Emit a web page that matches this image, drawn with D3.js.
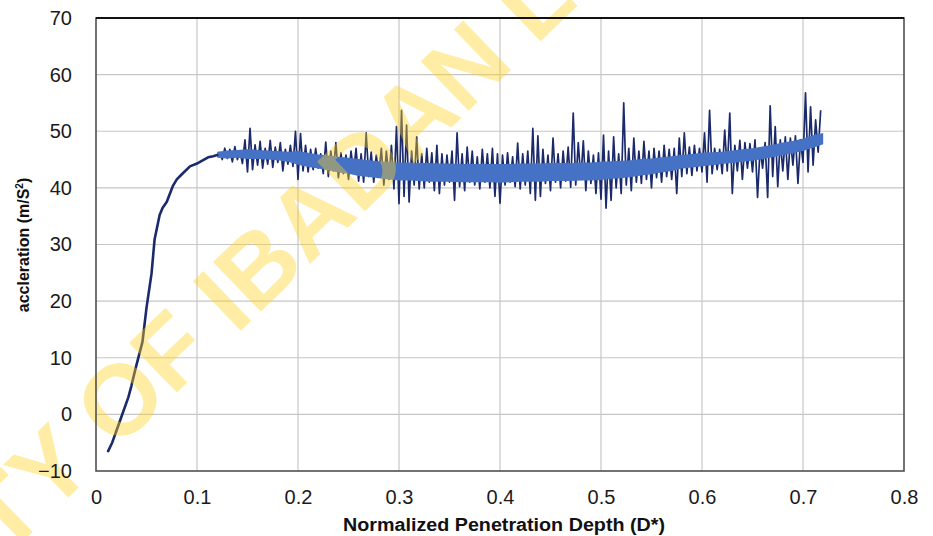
<!DOCTYPE html>
<html><head><meta charset="utf-8">
<script src="https://cdn.jsdelivr.net/npm/d3@7"></script>
<style>body{margin:0;background:#fff} svg{display:block}</style>
</head><body>
<svg id="c" width="933" height="536"></svg>
<script>
// ---- data ----
const xTicks = [0, 0.1, 0.2, 0.3, 0.4, 0.5, 0.6, 0.7, 0.8];
const yTicks = [-10, 0, 10, 20, 30, 40, 50, 60, 70];
const xTitle = "Normalized Penetration Depth (D*)";
const yTitle = "accleration (m/S";

// initial rise of the acceleration curve
const riseDepth = [0.012, 0.016, 0.019, 0.025, 0.032, 0.035, 0.039, 0.046, 0.050, 0.055, 0.058, 0.063, 0.066, 0.070, 0.076, 0.080, 0.085, 0.093, 0.100, 0.103, 0.111, 0.116, 0.120];
const riseAccel = [-6.5, -5.0, -3.5, -0.5, 3.0, 5.0, 8.0, 12.8, 18.8, 24.9, 30.9, 35.2, 36.5, 37.5, 40.3, 41.5, 42.4, 43.8, 44.3, 44.6, 45.4, 45.6, 45.8];

// noisy plateau (raw samples), sampled every 0.0025 from 0.1225
const plateauStart = 0.1225, plateauStep = 0.0025;
const plateauAccel = [
  46.2, 45.0, 47.0, 45.2, 46.8, 44.6, 47.3, 45.0, 46.5, 44.3, 48.5, 42.8, 50.5, 43.2, 47.6, 44.0, 48.2, 43.5, 47.0, 44.2,
  48.4, 43.6, 47.2, 44.5, 48.0, 43.0, 46.8, 44.2, 47.5, 43.8, 50.0, 41.5, 49.6, 43.0, 47.5, 42.8, 46.8, 43.2, 47.0, 43.5,
  46.0, 42.5, 48.1, 42.0, 46.5, 43.0, 48.0, 41.8, 46.2, 42.5, 45.8, 41.5, 46.5, 42.8, 47.0, 41.2, 46.0, 41.0, 49.7, 42.0,
  46.3, 41.0, 45.8, 42.2, 47.0, 40.5, 46.5, 41.5, 47.5, 39.8, 50.8, 37.2, 53.7, 38.5, 51.1, 37.5, 46.5, 40.5, 49.0, 39.8,
  46.0, 40.0, 47.0, 41.0, 46.2, 39.5, 47.5, 39.0, 46.0, 40.5, 45.8, 41.0, 46.5, 37.8, 49.7, 40.2, 46.0, 39.5, 47.2, 41.0,
  46.5, 40.5, 45.5, 39.8, 46.8, 41.0, 46.0, 40.0, 47.0, 38.5, 46.0, 37.3, 45.8, 40.5, 46.2, 41.0, 45.5, 40.2, 47.9, 39.8,
  46.0, 40.5, 46.5, 39.0, 50.5, 37.8, 49.2, 38.5, 46.8, 40.8, 45.8, 39.5, 48.8, 41.0, 46.0, 40.0, 46.5, 41.2, 47.2, 40.1,
  53.2, 40.5, 48.0, 41.5, 48.3, 39.5, 46.5, 40.8, 45.8, 39.0, 46.2, 38.0, 49.3, 36.4, 46.5, 37.8, 49.0, 40.0, 46.0, 39.0,
  55.0, 40.5, 47.0, 39.5, 48.8, 41.0, 46.5, 40.8, 48.2, 41.5, 46.5, 40.0, 47.0, 41.8, 46.5, 41.0, 47.5, 42.0, 46.8, 41.5,
  47.0, 39.0, 48.8, 42.0, 49.7, 42.5, 47.2, 42.2, 47.5, 43.0, 47.0, 42.8, 49.7, 41.0, 53.7, 42.5, 47.0, 43.2, 46.8, 42.5,
  50.2, 43.0, 53.2, 39.0, 47.5, 43.0, 48.4, 41.5, 48.0, 43.5, 47.8, 42.8, 48.5, 38.3, 47.0, 43.5, 48.0, 38.3, 54.5, 42.0,
  50.8, 40.2, 48.5, 43.0, 49.0, 41.5, 48.8, 44.0, 49.2, 40.8, 48.5, 44.5, 56.8, 42.8, 54.3, 44.0, 52.0, 46.3, 53.7
];

// dense band of the signal, every 0.01 from 0.12
const bandStart = 0.12, bandStep = 0.01;
const bandLow = [45.3, 45.2, 45.3, 45.1, 45.1, 45.0, 44.9, 44.6, 44.1, 43.7, 43.4, 43.1, 42.7, 42.5, 42.1, 41.9, 41.7, 41.5, 41.3, 41.3,
  41.2, 41.1, 41.1, 41.1, 41.0, 41.0, 41.0, 41.0, 40.9, 41.0, 41.1, 41.1, 41.1, 41.2, 41.2, 41.2, 41.3, 41.3, 41.4, 41.6,
  41.7, 41.9, 42.2, 42.4, 42.7, 43.0, 43.4, 43.6, 43.8, 44.0, 44.2, 44.4, 44.6, 44.8, 45.1, 45.4, 45.8, 46.1, 46.5, 47.1, 47.7];
const bandHigh = [46.4, 46.6, 46.7, 46.8, 46.7, 46.6, 46.5, 46.4, 46.5, 46.2, 45.9, 45.7, 45.5, 45.3, 45.1, 44.9, 44.7, 44.6, 44.5, 44.5,
  44.4, 44.4, 44.3, 44.3, 44.2, 44.2, 44.2, 44.2, 44.2, 44.2, 44.3, 44.3, 44.3, 44.4, 44.4, 44.4, 44.5, 44.5, 44.6, 44.7,
  44.8, 44.9, 45.1, 45.2, 45.4, 45.6, 45.8, 46.0, 46.2, 46.3, 46.4, 46.6, 46.8, 47.0, 47.3, 47.6, 48.0, 48.3, 48.7, 49.3, 49.7];

// ---- chart ----
const svg = d3.select("#c");
const W = 933, H = 536;
const x = d3.scaleLinear().domain([0, 0.8]).range([96, 904]);
const y = d3.scaleLinear().domain([-10, 70]).range([471, 18]);
const FONT = "'Liberation Sans', Arial, Helvetica, sans-serif";

svg.append("rect").attr("width", W).attr("height", H).attr("fill", "#fff");

// grid
const grid = svg.append("g").attr("stroke", "#c6c6c6").attr("stroke-width", 1.2);
grid.selectAll("line.v").data(xTicks.slice(1, -1)).join("line")
  .attr("x1", d => x(d)).attr("x2", d => x(d)).attr("y1", y(70)).attr("y2", y(-10));
grid.selectAll("line.h").data(yTicks.slice(1, -1)).join("line")
  .attr("x1", x(0)).attr("x2", x(0.8)).attr("y1", d => y(d)).attr("y2", d => y(d));

// series
const line = d3.line().x(d => x(d[0])).y(d => y(d[1]));
const risePts = riseDepth.map((d, i) => [d, riseAccel[i]]);
const platPts = [risePts[risePts.length - 1]].concat(plateauAccel.map((v, i) => [plateauStart + i * plateauStep, v]));
svg.append("path").datum(platPts).attr("d", line)
  .attr("fill", "none").attr("stroke", "#1b2a6b").attr("stroke-width", 1.7).attr("stroke-linejoin", "round");

const band = bandLow.map((v, i) => [bandStart + i * bandStep, v, bandHigh[i]]);
const area = d3.area().x(d => x(d[0])).y0(d => y(d[1])).y1(d => y(d[2]));
svg.append("path").datum(band).attr("d", area).attr("fill", "#4672c6");

svg.append("path").datum(risePts).attr("d", line)
  .attr("fill", "none").attr("stroke", "#1b2a6b").attr("stroke-width", 2.6)
  .attr("stroke-linejoin", "round").attr("stroke-linecap", "round");

// watermark
const wm = svg.append("g").attr("transform", "translate(221,300) rotate(-44)");
const wt = wm.append("text").text("UNIVERSITY OF IBADAN LIBRARY")
  .attr("font-family", FONT).attr("font-weight", 700).attr("font-size", 100)
  .attr("fill", "#FFD21F").attr("fill-opacity", 0.4);
const wn = wt.node();
const pre = wn.getSubStringLength(0, 14), iw = wn.getSubStringLength(14, 1);
wt.attr("x", -(pre + iw / 2)).attr("y", 36);

// frame
svg.append("rect").attr("x", x(0)).attr("y", y(70)).attr("width", x(0.8) - x(0)).attr("height", y(-10) - y(70))
  .attr("fill", "none").attr("stroke", "#505050").attr("stroke-width", 1.6);
svg.append("line").attr("x1", x(0)).attr("x2", x(0.8)).attr("y1", y(70)).attr("y2", y(70))
  .attr("stroke", "#111").attr("stroke-width", 2);

// axes
const xAxis = d3.axisBottom(x).tickValues(xTicks).tickSize(0).tickPadding(19).tickFormat(d => d === 0 ? "0" : d3.format(".1f")(d));
const gx = svg.append("g").attr("transform", `translate(0,${y(-10)})`).call(xAxis);
gx.select(".domain").remove();
gx.selectAll("text").attr("font-family", FONT).attr("font-size", 20).attr("fill", "#1a1a1a");

const yAxis = d3.axisLeft(y).tickValues(yTicks).tickSize(0).tickPadding(24).tickFormat(d3.format("d"));
const gy = svg.append("g").attr("transform", `translate(${x(0)},0)`).call(yAxis);
gy.select(".domain").remove();
gy.selectAll("text").attr("font-family", FONT).attr("font-size", 20).attr("fill", "#1a1a1a");

// titles
svg.append("text").attr("x", 504).attr("y", 531).attr("text-anchor", "middle")
  .attr("font-family", FONT).attr("font-weight", 700).attr("font-size", 18).attr("fill", "#111")
  .attr("textLength", 322).attr("lengthAdjust", "spacingAndGlyphs").text(xTitle);

const yt = svg.append("text").attr("transform", "translate(29,245) rotate(-90)").attr("text-anchor", "middle")
  .attr("font-family", FONT).attr("font-weight", 700).attr("font-size", 16).attr("fill", "#111");
yt.append("tspan").text(yTitle);
yt.append("tspan").attr("font-size", 10).attr("dy", -6).text("2");
yt.append("tspan").attr("dy", 6).text(")");
</script>
</body></html>
